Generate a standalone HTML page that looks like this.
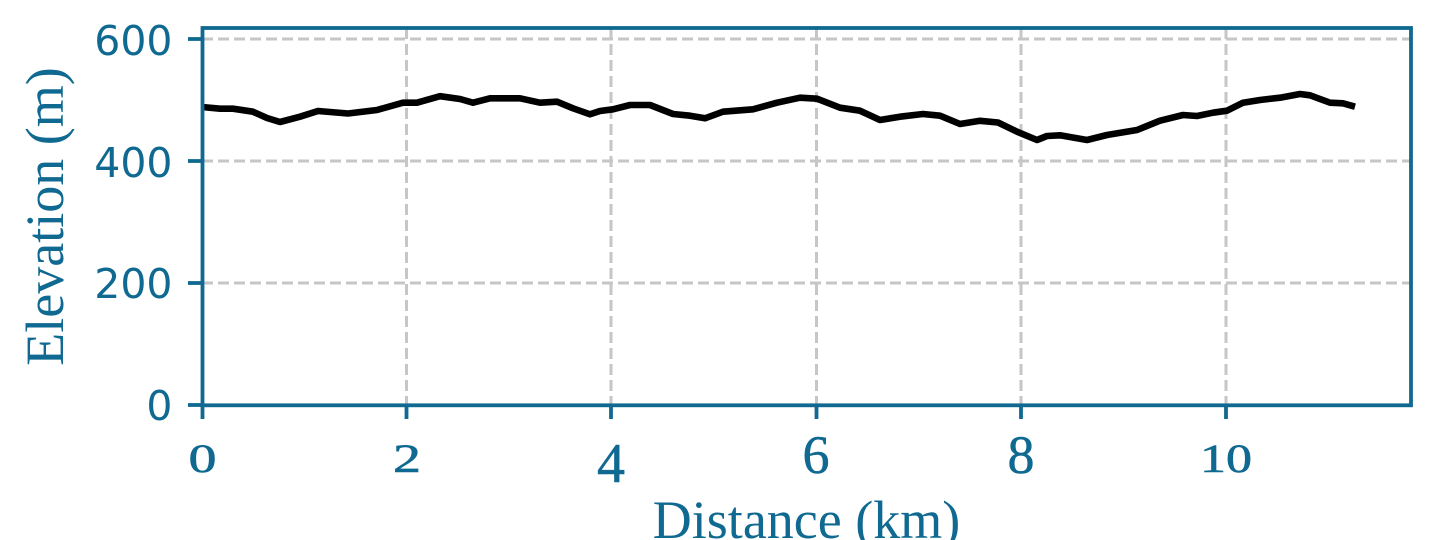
<!DOCTYPE html>
<html>
<head>
<meta charset="utf-8">
<style>
  html, body { margin: 0; padding: 0; background: #ffffff; }
  svg { display: block; }
</style>
</head>
<body>
<svg width="1440" height="540" viewBox="0 0 1440 540" xmlns="http://www.w3.org/2000/svg">
  <rect x="0" y="0" width="1440" height="540" fill="#ffffff"/>

  <!-- grid -->
  <g stroke="#c6c6c6" stroke-width="3" stroke-dasharray="11 5" fill="none">
    <line x1="202" y1="39" x2="1411" y2="39"/>
    <line x1="202" y1="161" x2="1411" y2="161"/>
    <line x1="202" y1="283" x2="1411" y2="283"/>
    <line x1="406.5" y1="28" x2="406.5" y2="405"/>
    <line x1="611" y1="28" x2="611" y2="405"/>
    <line x1="816.5" y1="28" x2="816.5" y2="405"/>
    <line x1="1021" y1="28" x2="1021" y2="405"/>
    <line x1="1226" y1="28" x2="1226" y2="405"/>
  </g>

  <!-- data line -->
  <polyline fill="none" stroke="#000000" stroke-width="6.6" stroke-linejoin="round" stroke-linecap="butt"
    points="202,107 220,108.7 233,108.7 253,111.7 267,118 280,122 300,116.7 318,111 348,113.5 377,110 403,102.7 417,102.7 440,96.2 460,99 473,102.7 490,98.3 520,98.3 540,102.7 557,101.7 573,108.3 590,114.3 600,111 613,109.3 630,105 650,105 673,114 690,115.7 705,118.3 723,111.7 753,109.3 777,102.7 800,97.7 817,98.7 840,107.7 860,110.7 880,120 900,116.7 923,114 940,115.7 960,124 980,120.8 998,122.5 1017,131.7 1037,140 1047,136 1060,135.3 1087,140 1107,135 1137,130 1160,120.7 1183,115 1197,116 1213,112.7 1227,110.7 1243,102.7 1260,100 1280,97.7 1300,94 1310,95.3 1330,102.7 1343,103.3 1355,106.7"/>

  <!-- spines -->
  <rect x="202.5" y="28" width="1208.5" height="377.3" fill="none" stroke="#0f6990" stroke-width="3.8"/>

  <!-- ticks -->
  <g stroke="#0f6990" stroke-width="3.8">
    <line x1="188" y1="39" x2="202" y2="39"/>
    <line x1="188" y1="161" x2="202" y2="161"/>
    <line x1="188" y1="283" x2="202" y2="283"/>
    <line x1="188" y1="405" x2="202" y2="405"/>
    <line x1="202.5" y1="405" x2="202.5" y2="419"/>
    <line x1="406.5" y1="405" x2="406.5" y2="419"/>
    <line x1="611" y1="405" x2="611" y2="419"/>
    <line x1="816.5" y1="405" x2="816.5" y2="419"/>
    <line x1="1021" y1="405" x2="1021" y2="419"/>
    <line x1="1226" y1="405" x2="1226" y2="419"/>
  </g>

  <!-- y tick labels -->
  <g fill="#0f6990" font-family="'DejaVu Sans', 'Liberation Sans', sans-serif" font-size="41" text-anchor="end">
    <text x="172.5" y="55">600</text>
    <text x="172.5" y="177">400</text>
    <text x="172.5" y="298">200</text>
    <text x="172.5" y="420">0</text>
  </g>

  <!-- x tick labels (old-style figure imitation) -->
  <g fill="#0f6990" font-family="'Liberation Serif', serif" text-anchor="middle">
    <text font-size="40" stroke="#0f6990" stroke-width="0.6" transform="translate(202.5,472) scale(1.4,1)" x="0" y="0">0</text>
    <text font-size="40" stroke="#0f6990" stroke-width="0.6" transform="translate(407,472) scale(1.4,1)" x="0" y="0">2</text>
    <text font-size="56" stroke="#0f6990" stroke-width="0.5" x="611" y="482">4</text>
    <text font-size="54" stroke="#0f6990" stroke-width="0.5" x="816" y="473">6</text>
    <text font-size="54" stroke="#0f6990" stroke-width="0.5" x="1021" y="473">8</text>
    <text font-size="40" stroke="#0f6990" stroke-width="0.6" transform="translate(1226,472) scale(1.3,1)" x="0" y="0">10</text>
  </g>

  <!-- axis labels -->
  <text fill="#0f6990" font-family="'Liberation Serif', serif" font-size="54" text-anchor="middle" x="806.5" y="538">Distance (km)</text>
  <text fill="#0f6990" font-family="'Liberation Serif', serif" font-size="54" text-anchor="middle" transform="translate(63,216.5) rotate(-90)" x="0" y="0">Elevation (m)</text>
</svg>
</body>
</html>
